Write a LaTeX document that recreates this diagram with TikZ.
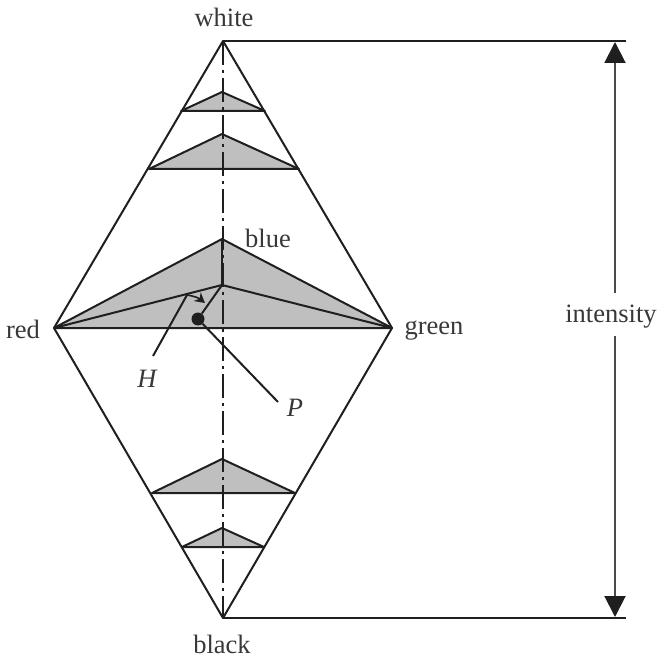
\documentclass[tikz,border=0pt]{standalone}
\usepackage{fontspec}
\setmainfont{Liberation Serif}
\usetikzlibrary{arrows.meta}
\definecolor{ink}{gray}{0.12}
\definecolor{txt}{gray}{0.22}
\definecolor{fillg}{gray}{0.75}
\tikzset{x=1pt,y=-1pt,
 edge/.style={draw=ink,line width=2pt},
 tri/.style={edge,fill=fillg,line join=round},
 axis/.style={draw=ink,line width=1.6pt,dash pattern=on 24pt off 5pt on 3pt off 5pt},
 dim/.style={draw=ink!80,line width=2pt,-{Triangle[length=21pt,width=21pt,color=ink]}},
 lab/.style={text=txt,font=\fontsize{26.5}{28}\selectfont,inner sep=0pt},
 ilab/.style={lab,font=\fontsize{26.5}{28}\selectfont\itshape}}
\begin{document}
\begin{tikzpicture}
\useasboundingbox (0,0) rectangle (659,658);
\coordinate (W) at (223,41);
\coordinate (K) at (223,618);
\coordinate (R) at (54,328);
\coordinate (G) at (392,328);
\coordinate (B) at (222,239);
\coordinate (C) at (222,285);
\coordinate (A1) at (222,92);\coordinate (L1) at (181,111);\coordinate (M1) at (265,111);
\coordinate (A2) at (222,134);\coordinate (L2) at (149,169);\coordinate (M2) at (299,169);
\coordinate (A3) at (222,459);\coordinate (L3) at (152,493);\coordinate (M3) at (295,493);
\coordinate (A4) at (222,528);\coordinate (L4) at (182,547);\coordinate (M4) at (264,547);
\path[tri] (L1)--(A1)--(M1)--cycle;
\path[tri] (L2)--(A2)--(M2)--cycle;
\path[tri] (L3)--(A3)--(M3)--cycle;
\path[tri] (L4)--(A4)--(M4)--cycle;
\path[tri] (R)--(B)--(G)--cycle;
\draw[edge] (R)--(C)--(G);
\draw[edge] (B)--(C);
\draw[axis] (W)--(K);
\draw[edge,line join=round] (W)--(R)--(K)--(G)--cycle;
% intensity
\coordinate (T1) at (626,41);\coordinate (T2) at (626,618);
\coordinate (D1) at (615,42);\coordinate (D2) at (615,617);
\coordinate (E1) at (615,293);\coordinate (E2) at (615,336);
\draw[edge] (W)--(T1);
\draw[edge] (K)--(T2);
\draw[dim] (E1)--(D1);
\draw[dim] (E2)--(D2);
% P, H
\node[circle,fill=ink,minimum size=13pt,inner sep=0pt] (P) at (198,319) {};
\draw[edge] (P)--(C);
\coordinate (Pe) at (278,402);
\draw[edge] (P)--(Pe);
\coordinate (He) at (153,356);
\coordinate (Hs) at (187,295);
\draw[edge] (He)--(Hs);
\coordinate (Ha) at (205,303);
\draw[draw=ink,line width=1.6pt,-{Stealth[length=10pt,width=11pt]}] (Hs) to[bend left=15] (Ha);
% labels
\node[lab] (lw) at (224,17) {white};
\node[lab] (lk) at (222,644) {black};
\node[lab] (lb) at (268,238) {blue};
\node[lab] (lr) at (23,329) {red};
\node[lab] (lg) at (434,331) {green};
\node[lab] (li) at (611,317) {intensity};
\node[ilab] (lh) at (147,379) {H};
\node[ilab] (lp) at (295,408) {P};
\end{tikzpicture}
\end{document}
